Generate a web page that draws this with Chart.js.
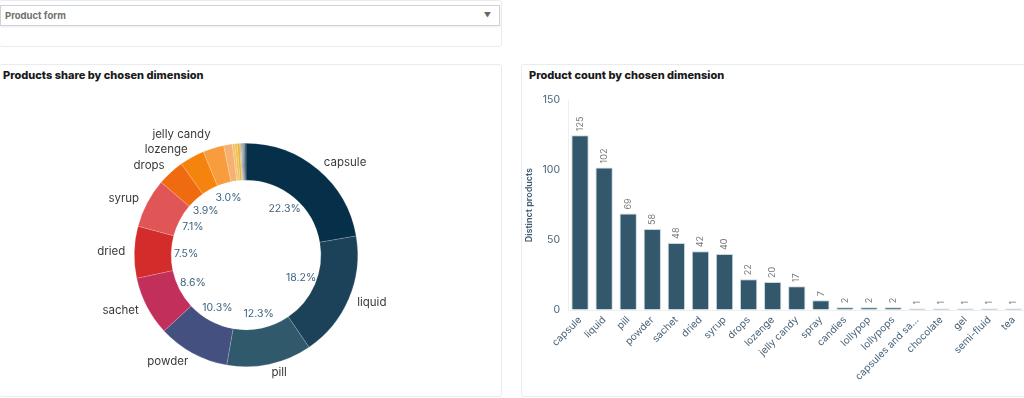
<!DOCTYPE html>
<html>
<head>
<meta charset="utf-8">
<script src="https://cdn.jsdelivr.net/npm/chart.js@4.4.1/dist/chart.umd.min.js"></script>
<style>
  html, body { margin: 0; padding: 0; background: #fff; }
  body { width: 1024px; height: 398px; overflow: hidden; position: relative; font-family: Inter, "Noto Sans", sans-serif; }
  .panel { position: absolute; border: 1px solid #e9ecef; border-radius: 3px; background: #fff; box-sizing: border-box; }
  .select { position: absolute; left: 0; top: 5px; width: 500px; height: 21px; border: 1px solid #cdd2d6; box-sizing: border-box;
            box-shadow: 0 1px 2px rgba(0,0,0,0.08); font-size: 9.5px; font-weight: 700; color: #707070; line-height: 19px; padding-left: 4px; }
  .select .arrow { position: absolute; right: 8px; top: 0; font-size: 7px; color: #666; }
  .title { position: absolute; font-size: 11px; font-weight: 800; color: #1a1a1a; white-space: nowrap; }
  canvas { position: absolute; }
</style>
</head>
<body>
<div class="panel" style="left:-1px; top:0; width:503px; height:47px;"></div>
<div class="select">Product form<span class="arrow">&#9660;</span></div>

<div class="panel" style="left:-1px; top:64px; width:503px; height:333px;"></div>
<div class="panel" style="left:521px; top:64px; width:520px; height:333px;"></div>
<div class="title" style="left:3px; top:68px;">Products share by chosen dimension</div>
<div class="title" style="left:529px; top:68px;">Product count by chosen dimension</div>

<canvas id="shareChart" width="500" height="332" style="left:0; top:64px;"></canvas>
<canvas id="countChart" width="504" height="309" style="left:522px; top:86px;"></canvas>

<script>
const categories = ['capsule', 'liquid', 'pill', 'powder', 'sachet', 'dried', 'syrup', 'drops', 'lozenge', 'jelly candy',
    'spray', 'candies', 'lollypop', 'lollypops', 'capsules and sachets', 'chocolate', 'gel', 'semi-fluid', 'tea'];
const productCounts = [125, 102, 69, 58, 48, 42, 40, 22, 20, 17, 7, 2, 2, 2, 1, 1, 1, 1, 1];
const sliceColors = ['#06304a', '#1c4259', '#30596c', '#44507f', '#c22f5a', '#d42b2b', '#e05656', '#f06a0f', '#f5840e', '#f89c3d',
    '#f6b071', '#f3be6a', '#efc04a', '#e8b23c', '#d9b25b', '#8aa0ae', '#647f91', '#456275', '#2f4f63'];
const yTicks = [0, 50, 100, 150];

const total = productCounts.reduce((s, v) => s + v, 0);
const FONT = 'Inter, "Noto Sans", sans-serif';

// labels around and inside the donut
const donutLabels = {
    id: 'donutLabels',
    afterDraw(chart) {
        const ctx = chart.ctx;
        const arcs = chart.getDatasetMeta(0).data;
        ctx.save();

        // percentages inside the hole
        ctx.font = '10.5px ' + FONT;
        ctx.fillStyle = '#3f6480';
        ctx.textAlign = 'center';
        ctx.textBaseline = 'middle';
        let last = null;
        arcs.forEach((arc, i) => {
            const pct = productCounts[i] / total * 100;
            if (pct < 2.5) return;
            const p = arc.getProps(['x', 'y', 'startAngle', 'endAngle', 'innerRadius'], true);
            const mid = (p.startAngle + p.endAngle) / 2;
            const r = p.innerRadius - 15;
            const x = p.x + Math.cos(mid) * r, y = p.y + Math.sin(mid) * r;
            if (last && Math.hypot(x - last.x, y - last.y) < 17) return;
            ctx.fillText(pct.toFixed(1) + '%', x, y);
            last = {x, y};
        });

        // category names outside
        ctx.font = '11.5px ' + FONT;
        ctx.fillStyle = '#3a3a3a';
        let prevLeftY = null;
        arcs.forEach((arc, i) => {
            const pct = productCounts[i] / total * 100;
            if (pct < 2) return;
            const p = arc.getProps(['x', 'y', 'startAngle', 'endAngle', 'outerRadius'], true);
            const mid = (p.startAngle + p.endAngle) / 2;
            const r = p.outerRadius + 9;
            const x = p.x + Math.cos(mid) * r;
            let y = p.y + Math.sin(mid) * r;
            if (Math.cos(mid) < 0) {
                if (prevLeftY !== null && y > prevLeftY - 15) y = prevLeftY - 15;
                prevLeftY = y;
                ctx.textAlign = 'right';
            } else {
                ctx.textAlign = 'left';
            }
            ctx.fillText(categories[i], x, y);
        });
        ctx.restore();
    }
};

new Chart(document.getElementById('shareChart'), {
    type: 'doughnut',
    data: {
        labels: categories,
        datasets: [{
            data: productCounts,
            backgroundColor: sliceColors,
            borderColor: 'rgba(255,255,255,0.35)',
            borderWidth: 0.5
        }]
    },
    options: {
        responsive: false,
        animation: false,
        devicePixelRatio: 1,
        cutout: '67%',
        layout: { padding: { left: 134, right: 142, top: 79, bottom: 29 } },
        plugins: { legend: { display: false }, tooltip: { enabled: false } }
    },
    plugins: [donutLabels]
});

// value labels above bars
const barValues = {
    id: 'barValues',
    afterDraw(chart) {
        const ctx = chart.ctx;
        ctx.save();
        ctx.font = '9px ' + FONT;
        ctx.fillStyle = '#7a7a7a';
        ctx.textAlign = 'left';
        ctx.textBaseline = 'middle';
        chart.getDatasetMeta(0).data.forEach((bar, i) => {
            ctx.save();
            ctx.translate(bar.x, bar.y - 4);
            ctx.rotate(-Math.PI / 2);
            ctx.fillText(String(productCounts[i]), 0, 0);
            ctx.restore();
        });
        ctx.restore();
    }
};

new Chart(document.getElementById('countChart'), {
    type: 'bar',
    data: {
        labels: categories,
        datasets: [{
            data: productCounts,
            backgroundColor: '#33586c',
            borderColor: '#c9d6de',
            borderWidth: 1,
            barPercentage: 0.72,
            categoryPercentage: 1
        }]
    },
    options: {
        responsive: false,
        animation: false,
        devicePixelRatio: 1,
        layout: { padding: { top: 1, right: 0, left: 0, bottom: 0 } },
        plugins: { legend: { display: false }, tooltip: { enabled: false } },
        scales: {
            x: {
                grid: { drawOnChartArea: false, drawTicks: false },
                border: { color: '#eceff1' },
                afterFit: scale => { scale.height = 85; },
                ticks: {
                    autoSkip: false,
                    minRotation: 45,
                    maxRotation: 45,
                    padding: 4,
                    color: '#4b6478',
                    font: { family: FONT, size: 10 },
                    callback: function (v) {
                        const l = this.getLabelForValue(v);
                        return l.length > 16 ? l.slice(0, 15) + '...' : l;
                    }
                }
            },
            y: {
                min: 0,
                max: 150,
                afterFit: scale => { scale.width = 46; },
                afterBuildTicks: scale => { scale.ticks = yTicks.map(v => ({ value: v })); },
                grid: { drawOnChartArea: false, drawTicks: false },
                border: { color: '#eceff1' },
                ticks: { padding: 8, color: '#4b6478', font: { family: FONT, size: 10.5 } },
                title: {
                    display: true,
                    text: 'Distinct products',
                    color: '#3d5a70',
                    font: { family: FONT, size: 9, weight: '600' },
                    padding: { top: 2, bottom: 4 }
                }
            }
        }
    },
    plugins: [barValues]
});
</script>
</body>
</html>
